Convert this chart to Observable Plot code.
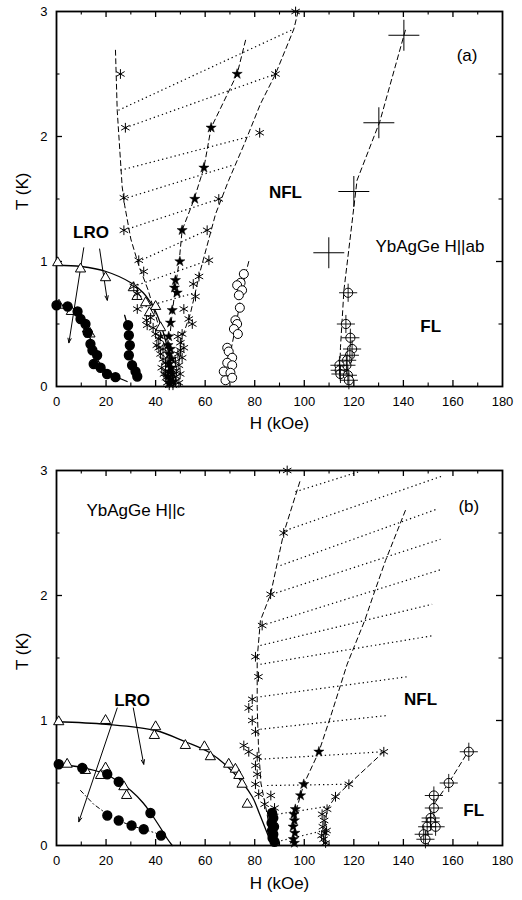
<!DOCTYPE html>
<html><head><meta charset="utf-8">
<script src="https://cdn.jsdelivr.net/npm/d3@7"></script>
<script src="https://cdn.jsdelivr.net/npm/@observablehq/plot@0.6"></script>
<style>body{margin:0;background:#fff}#chart svg{display:block}</style>
</head><body><div id="chart"></div>
<script>
// ---------- axis ticks ----------
const xMajor = [0,20,40,60,80,100,120,140,160,180];
const xMinor = [10,30,50,70,90,110,130,150,170];
const yMajor = [0,1,2,3];
const yMinor = [0.5,1.5,2.5];

// ---------- panel (a): H || ab ----------
const aFilled = [[0,0.65],[4.5,0.64],[8.5,0.6],[9.7,0.54],[11.7,0.5],[12.6,0.43],[13.7,0.34],[14.5,0.29],[16.4,0.25],[15,0.18],[17.8,0.15],[20.4,0.1],[23.8,0.075],
  [28.9,0.49],[29.2,0.41],[29.6,0.33],[29.2,0.25],[30.5,0.17],[31.9,0.12],[32.6,0.08]];
const aCurveUpper = [[0,0.97],[10,0.96],[20,0.92],[30,0.83],[35,0.75],[38,0.67],[40,0.6],[42,0.5],[44,0.37],[46,0.2],[47.3,0]];
const aCurveLower = [[0,0.65],[4,0.645],[8,0.6],[11,0.52],[13,0.42],[15,0.3],[17,0.2],[20,0.13],[24,0.08],[28.5,0.04]];
const aCurveBranch = [[27.5,0.57],[29,0.45],[29.7,0.3],[31,0.17],[33,0.06]];
const aTriangles = [[0.5,0.99],[9.7,0.94],[19.8,0.87],[31,0.79],[32.5,0.72],[36,0.67],[40,0.64],[37.5,0.59],[42,0.47],[1,0.65],[6,0.6],[12.5,0.46],[13.5,0.42]];
const aArrows = [[11,1.11,5,0.35],[17.4,1.1,20.5,0.69]];
const aAsterisk = [[25.8,2.5],[27.8,2.07],[27.2,1.51],[27.2,1.25],[33.2,1.01],[35.2,0.92],[31.2,0.8],[32.6,0.74],[32.6,0.62],[36.3,0.53],[36.6,0.49],
  [38,0.55],[39,0.47],[40,0.42],[41.3,0.38],[40.5,0.33],[41.3,0.31],[42,0.26],[43,0.22],[44,0.19],[42.5,0.15],[43.4,0.1],[44.2,0.07],[44.7,0.03],[45.5,0.01],
  [47,0.01],[48,0.04],[49.4,0.03],[49.9,0.1],[48.5,0.13],[49.4,0.17],[48,0.2],[50.7,0.23],[49,0.26],[51.4,0.31],[50,0.35],[49,0.4],[43,0.3],[42,0.4],[44,0.12],[48.3,0.08],
  [96.5,3.0],[88.4,2.5],[82,2.03],[65.5,1.5],[60.8,1.25],[61.5,1.01],[57.5,0.88],[55.2,0.82],[56.1,0.72],[51.4,0.62],[53.4,0.54],[54.8,0.5],[50.7,0.42],[50,0.29]];
const aDashLeft = [[23.8,2.69],[24.5,2.21],[26.5,1.6],[27.5,1.45],[30,1.18],[33,0.98],[37,0.77],[41,0.5],[44,0.3],[45.5,0.1],[46,0]];
const aStars = [[72.9,2.5],[62.4,2.07],[59.5,1.75],[55.8,1.5],[50.7,1.25],[49.8,1.0],[48,0.85],[47.6,0.79],[48.7,0.75],[46.7,0.61],[46,0.51],[45.3,0.4],
  [45,0.33],[46,0.3],[45.5,0.26],[46.5,0.22],[45.2,0.18],[46.3,0.15],[45.6,0.12],[46.8,0.1],[45,0.08],[46,0.06],[47,0.04],[45.5,0.03]];
const aDashMid = [[76.3,2.77],[72.9,2.5],[62.4,2.07],[59.5,1.75],[55.4,1.49],[50.7,1.25],[49.5,1.0],[48,0.8],[46.5,0.55],[45.5,0.35],[46,0.05]];
const aDashRight = [[97.5,3.0],[95.8,2.86],[88.4,2.5],[82.3,2.26],[76,1.95],[69.5,1.65],[64.2,1.38],[58.1,0.93],[54,0.58],[50.7,0.39],[49.5,0.2]];
const aOpen = [[75.6,0.9],[74.3,0.83],[72.9,0.81],[74.9,0.77],[73.6,0.73],[74,0.63],[72.2,0.53],[72.9,0.5],[71.6,0.46],[73.2,0.42],[68.9,0.31],[69.5,0.28],[70.9,0.23],
  [68.9,0.19],[70.9,0.17],[67.5,0.12],[70.2,0.11],[68.2,0.05],[70.9,0.07]];
const aDashOpen = [[77.6,1.0],[75,0.8],[73,0.55],[71,0.35],[69,0.15],[68,0.05]];
const aPlus = [[140.2,2.81],[130.1,2.11],[120,1.56],[109.9,1.07]];
const aDashPlus = [[140.8,2.85],[130.5,2.12],[121.3,1.65],[118,1.1],[116,0.77],[114.6,0.31],[114.3,0.1]];
const aCirclePlus = [[117.7,0.75],[116.8,0.5],[118.6,0.39],[119.3,0.3],[118.4,0.25],[117.3,0.21],[117,0.17],[114.2,0.17],[114.3,0.13],[114.6,0.1],[117.6,0.09],[118,0.05]];
const aHatch = [[25,2.21,95.8,2.86],[27.8,2.07,88.4,2.5],[25.8,1.73,78,2.0],[27,1.5,71,1.77],[27.2,1.25,65.5,1.5],[33,1.0,60.8,1.25],[31,0.8,61.5,1.01],[32.6,0.62,56,0.75]];
const aLabels = [["(a)",165.7,2.65,"normal","middle"],["NFL",92.4,1.55,"bold","middle"],["YbAgGe H||ab",128.7,1.12,"normal","start"],["FL",151,0.48,"bold","middle"],["LRO",13.9,1.23,"bold","middle"]];

// ---------- panel (b): H || c ----------
const bFilled = [[0.9,0.65],[10.4,0.62],[20.5,0.57],[25.1,0.51],[37.9,0.26],
  [20.5,0.24],[25.1,0.2],[30.3,0.16],[35.2,0.13],[42.2,0.08],
  [87,0.26],[87.5,0.22],[86.8,0.18],[87.8,0.15],[87,0.12],[87.5,0.09],[87.2,0.06],[88,0.03]];
const bCurveUpper = [[0,0.99],[20,0.97],[40,0.92],[52,0.83],[62,0.74],[71.6,0.58],[79,0.39],[82,0.25],[85,0.1],[87,0]];
const bCurveMid = [[0,0.65],[10,0.625],[20,0.57],[25,0.51],[30,0.44],[35,0.34],[38,0.26],[42,0.14],[44.5,0.06],[46.7,0]];
const bCurveLow = [[9.7,0.44],[15,0.33],[20.5,0.25],[25,0.2],[30,0.16],[35,0.13],[40,0.1],[43.3,0.06]];
const bTriangles = [[0.9,0.99],[19.8,1.0],[40,0.95],[39.5,0.88],[52,0.8],[59.7,0.79],[62.1,0.71],[69.5,0.65],[72.2,0.61],[73.6,0.56],[74.9,0.49],[77,0.33],
  [4.3,0.65],[11.7,0.6],[17.8,0.56],[19.8,0.62],[27.2,0.47],[28.3,0.4]];
const bArrows = [[24.5,1.1,9,0.19],[31,1.1,35.2,0.65]];
const bAsterisk = [[93.1,3.0],[91.7,2.5],[86.4,2.01],[83,1.76],[80.3,1.51],[81.5,1.35],[79,1.17],[77.6,1.1],[79,1.0],[80.3,0.91],[75.6,0.8],[77.6,0.75],[81,0.71],
  [80.3,0.64],[81,0.57],[80.3,0.49],[81.6,0.41],[84,0.33],[86.5,0.4],[88,0.3],
  [132.1,0.75],[118,0.49],[112.6,0.39],[109.2,0.29],[107.2,0.25],[108,0.2],[107.5,0.15],[108.5,0.1],[107.8,0.05],[108.6,0.02],[109,0.12],[107,0.08]];
const bDashLeft = [[98.2,2.91],[91.7,2.5],[86.4,2.01],[82.3,1.8],[81,1.5],[81,1.11],[81.5,0.8],[82.5,0.5],[85,0.25],[87,0]];
const bStars = [[105.9,0.75],[99.8,0.49],[98.5,0.4],[96.4,0.29],[95.8,0.25],[96,0.2],[95.5,0.15],[96.2,0.1],[95.6,0.05],[96,0.02]];
const bDashStar = [[140.8,2.68],[132.8,2.28],[128,2.01],[124.4,1.8],[117.3,1.45],[110.6,1.03],[105.9,0.75],[99.8,0.49],[97,0.3],[95.5,0.05]];
const bDashRight = [[132.1,0.75],[118,0.49],[112.6,0.39],[109.2,0.29],[108,0.1],[108,0]];
const bCirclePlus = [[166.4,0.75],[158.3,0.5],[152.3,0.4],[152.3,0.3],[151,0.22],[151,0.19],[149.6,0.15],[153,0.15],[148.2,0.09],[148.9,0.05]];
const bDashCP = [[167,0.78],[158.3,0.5],[153,0.35],[151,0.2],[149,0.05]];
const bHatch = [[96.4,2.83,122,2.99],[92.4,2.52,156.3,2.96],[90.4,2.24,153.4,2.69],[87,2.01,155,2.45],[83,1.76,155.6,2.21],[82.3,1.6,151.6,1.93],
  [82.3,1.45,152.3,1.68],[82.3,1.19,141.5,1.35],[82.3,0.93,133.4,1.04],[82.3,0.69,132.1,0.75],[85,0.48,118,0.49],[89,0.25,108.5,0.31],[89,0.03,107.9,0.12]];
const bLabels = [["(b)",166.4,2.71,"normal","middle"],["YbAgGe H||c",12.1,2.68,"normal","start"],["NFL",146.9,1.17,"bold","middle"],["FL",168.4,0.28,"bold","middle"],["LRO",30.5,1.16,"bold","middle"]];

// ---------- helpers ----------
const pts = a => a.map(([H,T]) => ({H,T}));
const segs = a => a.map(([x1,y1,x2,y2]) => ({x1,y1,x2,y2}));
const labs = a => a.map(([text,H,T,w,anchor]) => ({text,H,T,w,anchor}));
const W = 522, ML = 56, MR = 20;
const FONT = "'Liberation Sans', Arial, Helvetica, sans-serif";

function panel(d, mt, mb, titleDy, ylabDy) {
  const h = 450, ih = h - mt - mb, iw = W - ML - MR;
  const dash = {stroke:"black", strokeWidth:1, strokeDasharray:"5,3.5"};
  const L = labs(d.labels);
  const textMarks = [];
  for (const w of ["normal","bold"]) for (const a of ["start","middle"]) {
    const sub = L.filter(t => t.w === w && t.anchor === a);
    if (sub.length) textMarks.push(Plot.text(sub, {x:"H", y:"T", text:"text", fontWeight:w, textAnchor:a, fontSize:17}));
  }
  const marks = [
    Plot.frame({strokeWidth:1.8}),
    Plot.tickX(xMajor.slice(1,-1), {x:v=>v, insetTop: ih-6, strokeWidth:1.3}),
    Plot.tickX(xMajor.slice(1,-1), {x:v=>v, insetBottom: ih-6, strokeWidth:1.3}),
    Plot.tickX(xMinor, {x:v=>v, insetTop: ih-3.5, strokeWidth:1.1}),
    Plot.tickX(xMinor, {x:v=>v, insetBottom: ih-3.5, strokeWidth:1.1}),
    Plot.tickY(yMajor.slice(1,-1), {y:v=>v, insetRight: iw-6, strokeWidth:1.3}),
    Plot.tickY(yMajor.slice(1,-1), {y:v=>v, insetLeft: iw-6, strokeWidth:1.3}),
    Plot.tickY(yMinor, {y:v=>v, insetRight: iw-3.5, strokeWidth:1.1}),
    Plot.tickY(yMinor, {y:v=>v, insetLeft: iw-3.5, strokeWidth:1.1}),
    Plot.axisX({ticks:xMajor, tickSize:0, tickPadding:10, label:null, fontSize:13, tickFormat:v=>v}),
    Plot.axisY({ticks:yMajor, tickSize:0, tickPadding:9, label:null, fontSize:13, tickFormat:v=>v}),
    Plot.text(["H (kOe)"], {frameAnchor:"bottom", dy:titleDy, text:v=>v, fontSize:17}),
    Plot.text(["T (K)"], {frameAnchor:"left", dx:-34, dy:ylabDy, rotate:-90, text:v=>v, fontSize:17}),
    Plot.link(segs(d.hatch), {x1:"x1", y1:"y1", x2:"x2", y2:"y2", stroke:"black", strokeWidth:1.2, strokeDasharray:"1.3,3"}),
    ...d.dashed.map(l => Plot.line(pts(l), {x:"H", y:"T", ...dash})),
    ...d.solid.map(l => Plot.line(pts(l), {x:"H", y:"T", stroke:"black", strokeWidth:1.3, curve:"catmull-rom"})),
    ...(d.dashdot||[]).map(l => Plot.line(pts(l), {x:"H", y:"T", stroke:"black", strokeWidth:1, strokeDasharray:"4,3,1,3"})),
    Plot.arrow(segs(d.arrows), {x1:"x1", y1:"y1", x2:"x2", y2:"y2", stroke:"black", strokeWidth:1, headLength:7, headAngle:40}),
    Plot.dot(pts(d.triangles), {x:"H", y:"T", symbol:"triangle", r:3.8, fill:"white", stroke:"black", strokeWidth:1}),
    Plot.dot(pts(d.filled), {x:"H", y:"T", r:4.4, fill:"black", stroke:"black"}),
    Plot.dot(pts(d.asterisk), {x:"H", y:"T", symbol:"asterisk", r:4.6, stroke:"black", strokeWidth:1}),
    Plot.dot(pts(d.stars), {x:"H", y:"T", symbol:"star", r:3.2, fill:"black", stroke:"black", strokeWidth:0.5}),
    Plot.dot(pts(d.open||[]), {x:"H", y:"T", r:4.5, fill:"white", stroke:"black", strokeWidth:1}),
    Plot.dot(pts(d.plus||[]), {x:"H", y:"T", symbol:"plus", r:10, stroke:"black", strokeWidth:1}),
    Plot.dot(pts(d.cp), {x:"H", y:"T", r:4.6, fill:"white", stroke:"black", strokeWidth:1}),
    Plot.dot(pts(d.cp), {x:"H", y:"T", symbol:"plus", r:5.9, stroke:"black", strokeWidth:0.9}),
    ...textMarks
  ];
  return Plot.plot({
    width:W, height:h, marginTop:mt, marginBottom:mb, marginLeft:ML, marginRight:MR,
    x:{domain:[0,180]}, y:{domain:[0,3]},
    style:{fontFamily:FONT, fontSize:"13px", color:"black", background:"white", overflow:"visible"},
    marks
  });
}

const el = document.getElementById("chart");
el.append(panel({
  hatch:aHatch, dashed:[aDashLeft,aDashMid,aDashRight,aDashOpen,aDashPlus], solid:[aCurveUpper,aCurveLower,aCurveBranch],
  arrows:aArrows, triangles:aTriangles, filled:aFilled, asterisk:aAsterisk, stars:aStars, open:aOpen, plus:aPlus, cp:aCirclePlus, labels:aLabels
}, 11, 64, 42, 11));
el.append(panel({
  hatch:bHatch, dashed:[bDashLeft,bDashStar,bDashRight,bDashCP], solid:[bCurveUpper,bCurveMid], dashdot:[bCurveLow],
  arrows:bArrows, triangles:bTriangles, filled:bFilled, asterisk:bAsterisk, stars:bStars, cp:bCirclePlus, labels:bLabels
}, 20, 55, 43, 12));
</script></body></html>
